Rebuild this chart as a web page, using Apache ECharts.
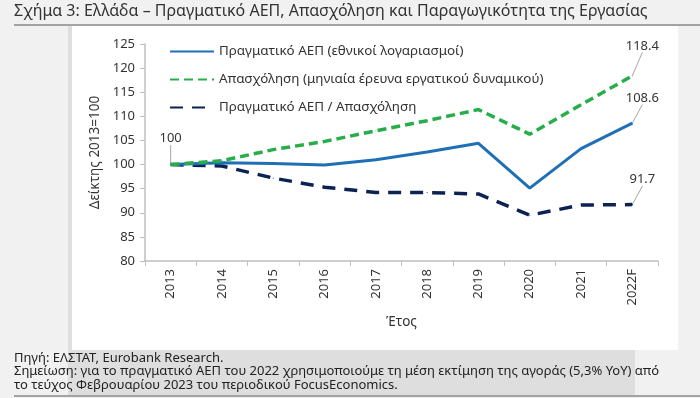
<!DOCTYPE html>
<html><head><meta charset="utf-8">
<script src="https://cdn.jsdelivr.net/npm/echarts@6/dist/echarts.min.js"></script>
<style>html,body{margin:0;padding:0;background:#f1f1f1}#c{width:700px;height:398px}</style>
</head><body><div id="c"></div>
<script>
const categories = ['2013','2014','2015','2016','2017','2018','2019','2020','2021','2022F'];
const gdp = [100, 100.4, 100.2, 99.9, 101.0, 102.6, 104.4, 95.1, 103.3, 108.6];
const employment = [100, 100.8, 103.1, 104.8, 107.0, 109.1, 111.4, 106.3, 112.4, 118.4];
const productivity = [100, 99.7, 97.2, 95.3, 94.2, 94.2, 93.9, 89.5, 91.6, 91.7];
const seriesNames = ['Πραγματικό ΑΕΠ (εθνικοί λογαριασμοί)', 'Απασχόληση (μηνιαία έρευνα εργατικού δυναμικού)', 'Πραγματικό ΑΕΠ / Απασχόληση'];
const yTicks = {min: 80, max: 125, interval: 5};

const FONT = '"Noto Sans", sans-serif';
const chart = echarts.init(document.getElementById('c'), null, {renderer: 'canvas'});

function withLabels(arr, idxs) {
  return arr.map((v, i) => idxs.indexOf(i) >= 0 ? {value: v, label: {show: true}} : v);
}
function layoutFor(offsets) {
  return function (p) {
    const o = offsets[p.dataIndex];
    return o ? {dx: o[0], dy: o[1]} : {};
  };
}
const labelCommon = {
  show: false, position: 'top', color: '#333', fontSize: 13, fontFamily: FONT,
  formatter: p => (p.value === 100 ? '100' : Number(p.value).toFixed(1))
};
const labelLineCommon = {show: true, lineStyle: {color: '#a6a6a6', width: 1}};

chart.setOption({
  backgroundColor: '#f1f1f1',
  animation: false,
  textStyle: {fontFamily: FONT},
  graphic: {elements: [
    {type: 'line', z: -20, shape: {x1: 14, y1: 25, x2: 700, y2: 25}, style: {stroke: '#555', lineWidth: 1}},
    {type: 'line', z: -20, shape: {x1: 14, y1: 396, x2: 700, y2: 396}, style: {stroke: '#555', lineWidth: 1}},
    {type: 'rect', z: -15, shape: {x: 68, y: 26, width: 567, height: 369}, style: {fill: '#dedede'}},
    {type: 'rect', z: -10, shape: {x: 72, y: 26, width: 606, height: 324}, style: {fill: '#ffffff'}},
    {type: 'text', z: 10, left: 14, top: 3, style: {text: 'Σχήμα 3: Ελλάδα – Πραγματικό ΑΕΠ, Απασχόληση και Παραγωγικότητα της Εργασίας', fill: '#333', font: '16px ' + FONT}},
    {type: 'text', z: 10, left: 14, top: 351, style: {text: 'Πηγή: ΕΛΣΤΑΤ, Eurobank Research.\nΣημείωση: για το πραγματικό ΑΕΠ του 2022 χρησιμοποιούμε τη μέση εκτίμηση της αγοράς (5,3% YoY) από\nτο τεύχος Φεβρουαρίου 2023 του περιοδικού FocusEconomics.', fill: '#222', font: '13px ' + FONT, lineHeight: 13.8}}
  ]},
  grid: {left: 145, right: 42, top: 44, bottom: 137},
  legend: {
    left: 164, top: 40, orient: 'vertical', itemWidth: 44, itemHeight: 14, itemGap: 15,
    textStyle: {fontSize: 13.4, color: '#333', fontFamily: FONT},
    itemStyle: {opacity: 0},
    data: seriesNames
  },
  xAxis: {
    type: 'category', data: categories, boundaryGap: true,
    name: 'Έτος', nameLocation: 'middle', nameGap: 54,
    nameTextStyle: {fontSize: 13.5, color: '#333'},
    axisLine: {lineStyle: {color: '#bfbfbf', width: 1.5}},
    axisTick: {show: true, length: 5, lineStyle: {color: '#bfbfbf'}},
    axisLabel: {rotate: 90, fontSize: 13, color: '#333', margin: 8}
  },
  yAxis: {
    type: 'value', min: yTicks.min, max: yTicks.max, interval: yTicks.interval,
    name: 'Δείκτης 2013=100', nameLocation: 'middle', nameGap: 34, nameRotate: 90,
    nameTextStyle: {fontSize: 13.5, color: '#333'},
    axisLine: {show: true, lineStyle: {color: '#bfbfbf', width: 1.5}},
    axisTick: {show: true, length: 5, lineStyle: {color: '#bfbfbf'}},
    axisLabel: {fontSize: 13, color: '#333', margin: 10},
    splitLine: {show: false}
  },
  series: [
    {
      name: seriesNames[0], type: 'line', symbol: 'circle', symbolSize: 1, showSymbol: true, z: 3,
      data: withLabels(gdp, [0, 9]),
      lineStyle: {color: '#1f6fb6', width: 3},
      itemStyle: {color: '#1f6fb6'},
      label: labelCommon, labelLine: labelLineCommon,
      labelLayout: layoutFor({0: [0, -14], 9: [10, -13]})
    },
    {
      name: seriesNames[1], type: 'line', symbol: 'circle', symbolSize: 1, showSymbol: true, z: 4,
      data: withLabels(employment, [9]),
      lineStyle: {color: '#27ad4a', width: 3.5, type: [9, 5]},
      itemStyle: {color: '#27ad4a'},
      label: labelCommon, labelLine: labelLineCommon,
      labelLayout: layoutFor({9: [10, -18]})
    },
    {
      name: seriesNames[2], type: 'line', symbol: 'circle', symbolSize: 1, showSymbol: true, z: 2,
      data: withLabels(productivity, [9]),
      lineStyle: {color: '#0c2253', width: 3.5, type: [13, 9]},
      itemStyle: {color: '#0c2253'},
      label: labelCommon, labelLine: labelLineCommon,
      labelLayout: layoutFor({9: [10, -13]})
    }
  ]
});
</script></body></html>
